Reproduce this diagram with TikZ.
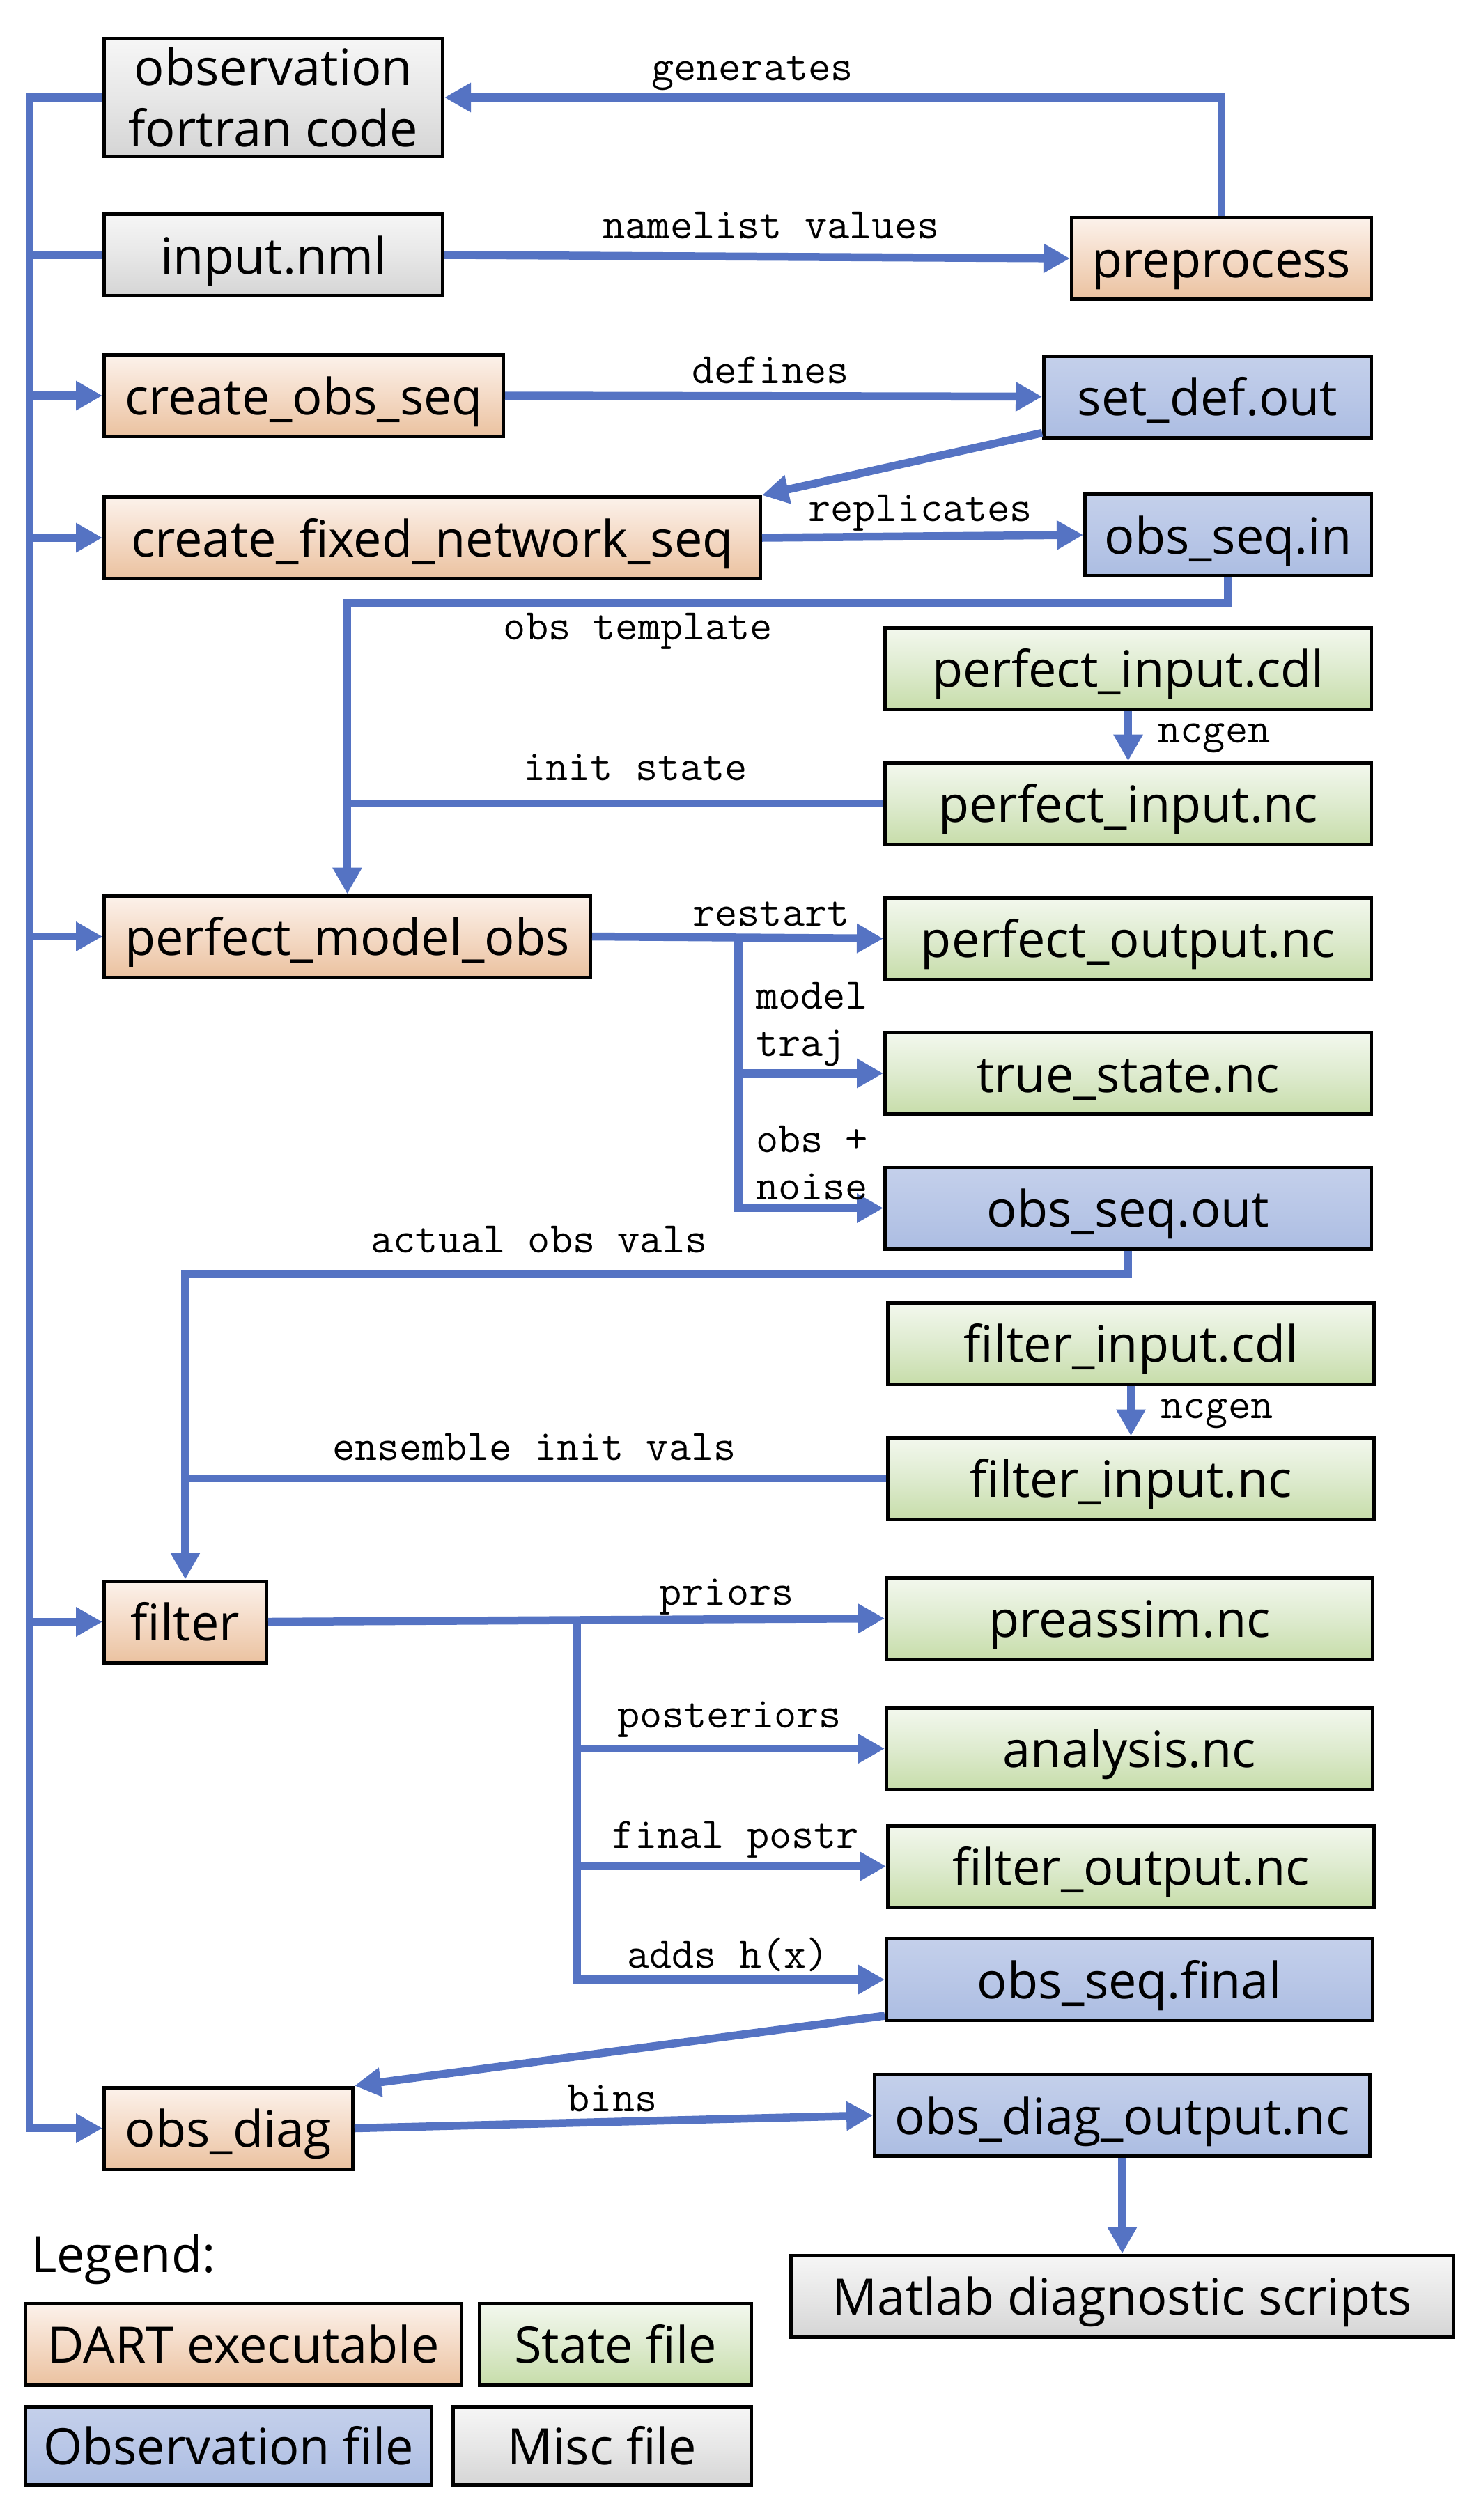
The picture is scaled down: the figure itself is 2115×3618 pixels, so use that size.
\documentclass[tikz,border=0pt]{standalone}
\usepackage{fontspec}
\setmainfont{Open Sans}
\usetikzlibrary{arrows.meta}
\definecolor{flowblue}{RGB}{85,115,195}
\definecolor{exetop}{RGB}{252,242,235}\definecolor{exemid}{RGB}{244,218,198}\definecolor{exebot}{RGB}{235,194,160}
\definecolor{statetop}{RGB}{243,248,238}\definecolor{statemid}{RGB}{222,235,207}\definecolor{statebot}{RGB}{199,221,170}
\definecolor{obstop}{RGB}{196,208,235}\definecolor{obsmid}{RGB}{185,199,231}\definecolor{obsbot}{RGB}{172,189,226}
\definecolor{misctop}{RGB}{246,246,246}\definecolor{miscmid}{RGB}{231,231,231}\definecolor{miscbot}{RGB}{213,213,213}
\begin{document}
\begin{tikzpicture}[x=1pt, y=-1pt,
  box/.style={draw=black, line width=5pt, minimum height=117pt, inner sep=0pt,
    text height=54pt, text depth=0pt, font=\fontsize{72}{88}\selectfont},
  exe/.style={box, top color=exetop, bottom color=exebot, middle color=exemid},
  state/.style={box, top color=statetop, bottom color=statebot, middle color=statemid},
  obs/.style={box, top color=obstop, bottom color=obsbot, middle color=obsmid},
  misc/.style={box, top color=misctop, bottom color=miscbot, middle color=miscmid},
  flow/.style={draw=flowblue, line width=11.5pt},
  arr/.style={flow, -{Triangle[length=38pt,width=40pt]}},
  lbl/.style={font=\fontsize{62.5}{68}\ttfamily, anchor=base, inner sep=0pt}]
  \useasboundingbox (0,0) rectangle (2115,3618);

  \node[misc, minimum width=486pt, minimum height=169pt, text height=142pt, align=center] (obsf) at (392.5,140) {observation\\fortran code};
  \node[misc, minimum width=486pt] (nml) at (392.5,366) {input.nml};
  \node[exe, minimum width=573pt] (cos) at (436,568) {create\_obs\_seq};
  \node[exe, minimum width=942pt] (cfn) at (620.5,772) {create\_fixed\_network\_seq};
  \node[exe, minimum width=430pt] (prep) at (1753.5,371) {preprocess};
  \node[obs, minimum width=470pt] (sdo) at (1733.5,569.5) {set\_def.out};
  \node[obs, minimum width=411pt] (osi) at (1763,768) {obs\_seq.in};
  \node[state, minimum width=698pt] (picdl) at (1619.5,959.5) {perfect\_input.cdl};
  \node[state, minimum width=698pt] (pinc) at (1619.5,1153.5) {perfect\_input.nc};
  \node[exe, minimum width=698pt] (pmo) at (498.5,1344.5) {perfect\_model\_obs};
  \node[state, minimum width=698pt] (pout) at (1619.5,1347.5) {perfect\_output.nc};
  \node[state, minimum width=698pt] (tsn) at (1619.5,1541) {true\_state.nc};
  \node[obs, minimum width=698pt] (oso) at (1619.5,1734.5) {obs\_seq.out};
  \node[state, minimum width=698pt] (ficdl) at (1623.5,1928.5) {filter\_input.cdl};
  \node[state, minimum width=698pt] (finc) at (1623.5,2122.5) {filter\_input.nc};
  \node[exe, minimum width=233pt] (filt) at (266,2328.5) {filter};
  \node[state, minimum width=698pt] (pre) at (1621.5,2323.5) {preassim.nc};
  \node[state, minimum width=698pt] (ana) at (1621.5,2510.5) {analysis.nc};
  \node[state, minimum width=698pt] (fout) at (1623.5,2679.5) {filter\_output.nc};
  \node[obs, minimum width=698pt] (osf) at (1621.5,2842) {obs\_seq.final};
  \node[exe, minimum width=357pt] (odiag) at (328,3055.5) {obs\_diag};
  \node[obs, minimum width=711pt] (odout) at (1611,3037) {obs\_diag\_output.nc};
  \node[misc, minimum width=951pt] (mat) at (1611,3296.5) {Matlab diagnostic scripts};

  \node[anchor=base west, inner sep=0pt, font=\fontsize{72}{88}\selectfont] (leg) at (44,3262) {Legend:};
  \node[exe, minimum width=626pt] (legexe) at (349.5,3365.5) {DART executable};
  \node[state, minimum width=390pt] (legstate) at (883.5,3365.5) {State file};
  \node[obs, minimum width=583pt, minimum height=112pt] (legobs) at (328,3511.5) {Observation file};
  \node[misc, minimum width=428pt, minimum height=112pt] (legmisc) at (864.5,3511.5) {Misc file};

  \coordinate (bustop) at (42.5,140);
  \draw[arr] (obsf.west) -- (bustop) |- (odiag.west);
  \draw[flow] (nml.west) -- (nml.west -| bustop);
  \foreach \n in {cos, cfn, pmo, filt} \draw[arr] (\n.west -| bustop) -- (\n.west);

  \draw[arr] (prep.north) |- (obsf.east);
  \draw[arr] (nml.east) -- (prep.west);
  \draw[arr] (cos.east) -- (sdo.west);
  \draw[arr] ([yshift=9pt]sdo.south west) -- (cfn.north east);
  \draw[arr] (cfn.east) -- (osi.west);

  \coordinate (tmpl) at (pmo.north |- 0,866);
  \draw[arr] (osi.south) |- (tmpl) -- (pmo.north);
  \draw[arr] (picdl.south) -- (pinc.north);
  \draw[flow] (pinc.west) -- (pinc.west -| tmpl);

  \coordinate (rbr) at (1060,1345);
  \draw[arr] (pmo.east) -- (pout.west);
  \draw[arr] (rbr) |- (tsn.west);
  \draw[arr] (rbr) |- (oso.west);

  \coordinate (aov) at (filt.north |- 0,1829);
  \draw[arr] (oso.south) |- (aov) -- (filt.north);
  \draw[arr] (ficdl.south) -- (finc.north);
  \draw[flow] (finc.west) -- (finc.west -| aov);

  \coordinate (fbr) at (828,2328.5);
  \draw[arr] (filt.east) -- (pre.west);
  \foreach \n in {ana, fout, osf} \draw[arr] (fbr) |- (\n.west);
  \draw[arr] ([yshift=9pt]osf.south west) -- (odiag.north east);
  \draw[arr] (odiag.east) -- (odout.west);
  \draw[arr] (odout.south) -- (mat.north);

  \node[lbl] (lgen) at (1080,116) {generates};
  \node[lbl] (lnml) at (1107,342) {namelist values};
  \node[lbl] (ldef) at (1106,550) {defines};
  \node[lbl] (lrep) at (1321,748) {replicates};
  \node[lbl] (ltmpl) at (916,918) {obs template};
  \node[lbl] (linit) at (912,1120) {init state};
  \node[lbl] (lnca) at (1743,1066) {ncgen};
  \node[lbl] (lrst) at (1107,1329) {restart};
  \node[lbl, anchor=base west, align=left] (ltraj) at (1085,1516) {model\\traj};
  \node[lbl, anchor=base west, align=left] (lnoise) at (1085,1722) {obs +\\noise};
  \node[lbl] (laov) at (774,1798) {actual obs vals};
  \node[lbl] (lncb) at (1747,2036) {ncgen};
  \node[lbl] (lens) at (767,2096) {ensemble init vals};
  \node[lbl] (lpri) at (1043,2304) {priors};
  \node[lbl] (lpost) at (1047,2480) {posteriors};
  \node[lbl] (lfin) at (1056,2653) {final postr};
  \node[lbl] (ladds) at (1045,2825) {adds h(x)};
  \node[lbl] (lbins) at (879,3031) {bins};
\end{tikzpicture}
\end{document}
